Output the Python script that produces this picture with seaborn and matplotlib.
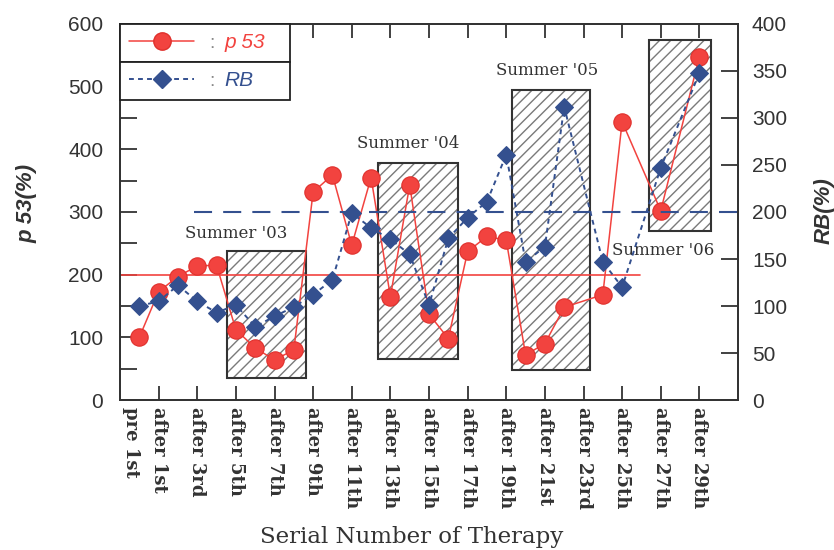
import matplotlib
matplotlib.use("Agg")
import matplotlib.pyplot as plt
from matplotlib.patches import Rectangle
from matplotlib.lines import Line2D
import numpy as np
import pandas as pd
import seaborn as sns

# Therapy index (0 = before the 1st therapy, n = after the n-th)
therapy_no = [0, 1, 2, 3, 4, 5, 6, 7, 8, 9, 10, 11, 12, 13, 14, 15, 16, 17,
              18, 19, 20, 21, 22, 24, 25, 27, 29]
p53 = [100, 173, 197, 214, 215, 112, 83, 64, 80, 332, 359, 247, 355, 165,
       343, 137, 98, 237, 261, 255, 72, 90, 148, 168, 444, 302, 548]
rb = [100, 105, 122, 105, 93, 101, 78, 89, 99, 112, 128, 199, 183, 171,
      155, 101, 172, 194, 211, 261, 147, 163, 312, 147, 120, 247, 348]

tick_pos = [1, 3, 5, 7, 9, 11, 13, 15, 17, 19, 21, 23, 25, 27, 29]
tick_labels = ["after 1st", "after 3rd", "after 5th", "after 7th", "after 9th",
               "after 11th", "after 13th", "after 15th", "after 17th",
               "after 19th", "after 21st", "after 23rd", "after 25th",
               "after 27th", "after 29th"]
pre_label = "pre 1st"

p53_ref = 200
rb_ref = 200

summer_names = ["Summer '03", "Summer '04", "Summer '05", "Summer '06"]
summer_x0 = [4.56, 12.37, 19.3, 26.4]
summer_x1 = [8.63, 16.5, 23.35, 29.6]
summer_lo = [35, 66, 48, 270]
summer_hi = [238, 378, 494, 574]
summer_text_x = [5.0, 13.9, 21.1, 27.1]
summer_text_y = [266, 410, 525, 239]

RED = "#f2433f"
RED_EDGE = "#e0302c"
BLUE = "#34508f"
INK = "#333333"

sns.set_style("white")
plt.rcParams["font.family"] = ["Liberation Sans", "DejaVu Sans"]
plt.rcParams["lines.scale_dashes"] = False

df = pd.DataFrame({"therapy": therapy_no, "p53": p53, "rb": rb})

fig = plt.figure(figsize=(8.34, 5.5), dpi=100)
fig.patch.set_facecolor("white")
ax = fig.add_axes([0.1439, 0.2727, 0.741, 0.6837])
ax2 = ax.twinx()

# summer periods: hatched boxes behind the data
for x0, x1, lo, hi, name, tx, ty in zip(summer_x0, summer_x1, summer_lo, summer_hi,
                                        summer_names, summer_text_x, summer_text_y):
    ax.add_patch(Rectangle((x0, lo), x1 - x0, hi - lo, facecolor="white",
                           edgecolor="#7a7a7a", hatch="///", linewidth=0, zorder=1))
    ax.add_patch(Rectangle((x0, lo), x1 - x0, hi - lo, facecolor="none",
                           edgecolor=INK, linewidth=1.5, zorder=1.5))
    ax.text(tx, ty, name, ha="center", va="center", family="DejaVu Serif",
            fontsize=12, color=INK, zorder=3)

# reference levels
ax.plot([-1, 25.9], [p53_ref, p53_ref], color=RED, linewidth=1.2, zorder=2)
ax2.plot([2.85, 31], [rb_ref, rb_ref], color=BLUE, linewidth=1.5,
         linestyle=(0, (13, 8)), zorder=2)

# series
sns.lineplot(data=df, x="therapy", y="p53", ax=ax, color=RED, linewidth=1.1,
             marker="o", markersize=12.5, markerfacecolor=RED,
             markeredgecolor=RED_EDGE, markeredgewidth=0.8, legend=False, zorder=3)
sns.lineplot(data=df, x="therapy", y="rb", ax=ax2, color=BLUE, linewidth=1.4,
             linestyle=(0, (3.5, 3)), marker="D", markersize=8.7,
             markerfacecolor=BLUE, markeredgecolor=BLUE, legend=False, zorder=3)

ax.set_xlim(-1, 31)
ax.set_ylim(0, 600)
ax2.set_ylim(0, 400)

ax.set_xticks([-0.42] + tick_pos)
ax.set_xticklabels([pre_label] + tick_labels, rotation=-90, family="DejaVu Serif",
                   fontweight="bold", fontsize=13, color="#2a2a2a")
ax.tick_params(axis="x", direction="in", length=10, width=1.3, top=True,
               bottom=True, pad=5, colors=INK)
first = ax.xaxis.get_major_ticks()[0]
first.tick1line.set_visible(False)
first.tick2line.set_visible(False)

ax.set_yticks(np.arange(0, 601, 100))
ax.set_yticks(np.arange(50, 600, 100), minor=True)
ax.tick_params(axis="y", which="both", direction="in", length=12, width=1.3,
               left=True, right=False, labelsize=15, pad=12, colors=INK)
ax2.set_yticks(np.arange(0, 401, 50))
ax2.tick_params(axis="y", direction="in", length=12, width=1.3, right=True,
                labelsize=15, pad=10, colors=INK)

for a in (ax, ax2):
    for s in a.spines.values():
        s.set_color(INK)
        s.set_linewidth(1.3)

ax.set_xlabel("Serial Number of Therapy", family="DejaVu Serif", fontsize=16.5,
              color=INK)
ax.xaxis.set_label_coords(0.4725, -0.335)
ax.set_ylabel("p 53(%)", fontsize=16, fontweight="bold", style="italic", color=INK)
ax.yaxis.set_label_coords(-0.133, 0.523)
ax2.set_ylabel("RB(%)", fontsize=16, fontweight="bold", style="italic", color=INK,
               rotation=90)
ax2.yaxis.set_label_coords(1.122, 0.503)

# legend: two stacked framed rows
h_p53 = Line2D([], [], color=RED, linewidth=1.1, marker="o", markersize=12.5,
               markerfacecolor=RED, markeredgecolor=RED_EDGE)
h_rb = Line2D([], [], color=BLUE, linewidth=1.4, linestyle=(0, (3.5, 3)), marker="D",
              markersize=8.7, markerfacecolor=BLUE, markeredgecolor=BLUE)
w = 170 / 618
leg_kw = dict(mode="expand", loc="upper left", frameon=True, fancybox=False,
              framealpha=1, borderaxespad=0, handlelength=3.1, handletextpad=1.45,
              borderpad=0.45, prop={"family": "Liberation Sans", "style": "italic",
                                    "size": 15})
leg1 = ax2.legend([h_p53], ["p 53"], bbox_to_anchor=(0, 0.899, w, 0.101),
                  labelcolor=RED, **leg_kw)
ax2.add_artist(leg1)
leg2 = ax2.legend([h_rb], ["RB"], bbox_to_anchor=(0, 0.798, w, 0.101),
                  labelcolor=BLUE, **leg_kw)
for lg in (leg1, leg2):
    fr = lg.get_frame()
    fr.set_edgecolor("#222222")
    fr.set_linewidth(1.3)
    lg.set_zorder(5)
# separators between legend sample and label
for yy in (0.949, 0.848):
    ax2.text(0.149, yy, ":", transform=ax2.transAxes, ha="center", va="center",
             fontsize=14, color="#888888", zorder=6)

fig.savefig("out.png", dpi=100, facecolor="white")
